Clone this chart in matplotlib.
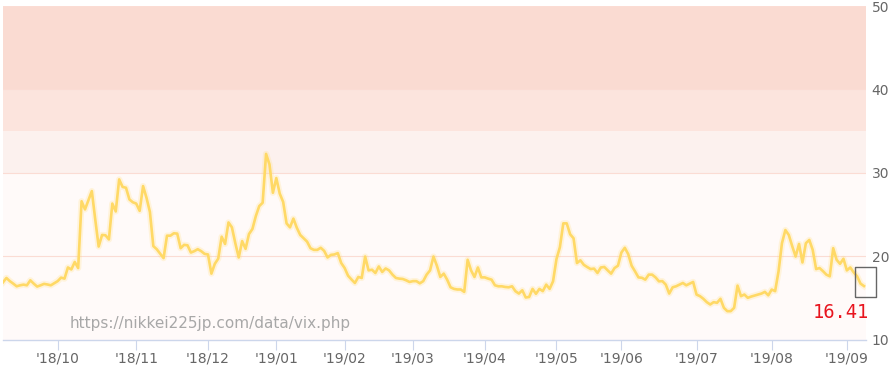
import numpy as np
import matplotlib.pyplot as plt

# VIX daily closes, one value per trading day, grouped by month
sep18 = [16.86, 17.38, 17.0, 16.7, 16.38, 16.5, 16.58, 16.5, 17.1, 16.7, 16.35, 16.5, 16.67, 16.6, 16.5, 16.75]
oct18 = [17.0, 17.42, 17.3, 18.64, 18.4, 19.3, 18.57, 26.58, 25.6, 26.7, 27.8, 24.4, 21.15, 22.54, 22.5, 22.0,
         26.3, 25.36, 29.2, 28.3, 28.2, 26.8, 26.46]
nov18 = [26.3, 25.43, 28.4, 27.0, 25.3, 21.2, 20.83, 20.3, 19.76, 22.45, 22.45, 22.74, 22.7, 20.95, 21.35, 21.3,
         20.43, 20.6, 20.83, 20.6, 20.27]
dec18 = [20.2, 17.9, 19.08, 19.7, 22.33, 21.46, 24.04, 23.45, 21.55, 19.84, 21.8, 20.87, 22.65, 23.25, 24.8, 26.0,
         26.4, 32.26, 31.0, 27.6]
jan19 = [29.36, 27.5, 26.5, 23.93, 23.45, 24.5, 23.4, 22.54, 22.14, 21.74, 20.95, 20.75, 20.75, 21.0, 20.63, 19.84,
         20.15, 20.2, 20.36, 19.17]
feb19 = [18.57, 17.65, 17.2, 16.78, 17.5, 17.38, 19.95, 18.29, 18.37, 17.98, 18.76, 18.1, 18.52, 18.29, 17.78, 17.38,
         17.3, 17.26, 17.1, 16.9]
mar19 = [17.0, 17.0, 16.74, 17.0, 17.78, 18.29, 19.95, 18.85, 17.5, 17.9, 17.18, 16.26, 16.07, 16.0, 16.0, 15.71,
         19.56, 18.29, 17.5, 18.64, 17.45]
apr19 = [17.45, 17.3, 17.18, 16.5, 16.38, 16.38, 16.3, 16.26, 16.38, 15.79, 15.51, 15.9, 15.04, 15.1, 16.07, 15.48,
         16.07, 15.8, 16.58, 16.07, 16.98]
may19 = [19.64, 21.07, 23.93, 23.93, 22.62, 22.14, 19.17, 19.5, 18.96, 18.69, 18.45, 18.5, 17.98, 18.64, 18.7, 18.29,
         17.9, 18.57, 18.85]
jun19 = [20.43, 21.0, 20.24, 18.85, 18.17, 17.45, 17.4, 17.18, 17.78, 17.78, 17.45, 16.98, 17.0, 16.58, 15.51, 16.26,
         16.38, 16.58, 16.78, 16.5, 16.7, 16.9]
jul19 = [15.39, 15.2, 14.88, 14.48, 14.2, 14.48, 14.4, 14.88, 13.8, 13.4, 13.4, 13.8, 16.46, 15.2, 15.39, 15.0,
         15.15, 15.27, 15.4, 15.51, 15.71, 15.3]
aug19 = [15.99, 15.8, 18.17, 21.55, 23.13, 22.54, 21.2, 19.95, 21.46, 19.24, 21.55, 21.94, 20.75, 18.45, 18.57, 18.2,
         17.78, 17.58, 20.95, 19.56, 19.08, 19.68]
sep19 = [18.29, 18.64, 18.05, 17.58, 16.7, 16.41]

months = [sep18, oct18, nov18, dec18, jan19, feb19, mar19, apr19, may19, jun19, jul19, aug19, sep19]
month_labels = ["'18/10", "'18/11", "'18/12", "'19/01", "'19/02", "'19/03", "'19/04",
                "'19/05", "'19/06", "'19/07", "'19/08", "'19/09"]
y_ticks = [10, 20, 30, 40, 50]
bands = [(10, 30, '#fffaf9'), (30, 35, '#fcf1ee'), (35, 40, '#fce4dd'), (40, 50, '#fadbd2')]

vix = np.concatenate(months)
x = np.arange(len(vix))
starts = np.cumsum([len(m) for m in months])[:-1]

fig = plt.figure(figsize=(8.9, 3.69), dpi=100)
ax = fig.add_axes([3 / 890, 29.5 / 369, 863 / 890, 333.5 / 369])

for lo, hi, c in bands:
    ax.axhspan(lo, hi, color=c, lw=0, zorder=0)
for v in y_ticks[1:]:
    ax.axhline(v, color='#fbdcd4', lw=0.8, zorder=1)

ax.plot(x, vix, color='#ffd966', lw=4.5, alpha=0.2, zorder=2, solid_joinstyle='round')
ax.plot(x, vix, color='#ffd966', lw=1.9, zorder=3, solid_joinstyle='round')

# box around the latest value (sits a little above the point, like the original)
box = [(-0.44, -0.54), (0.64, -0.54), (0.64, 1.0), (-0.44, 1.0), (-0.44, -0.54)]
ax.plot(x[-1], vix[-1], marker=box, markersize=28, mfc='none', mec='#666666', mew=1,
        clip_on=False, zorder=4)
ax.annotate('%.2f' % vix[-1], (x[-1], vix[-1]), xytext=(5, -26), textcoords='offset pixels',
            ha='right', va='center', color='#e8141e', fontsize=13.5, family='DejaVu Sans Mono')

ax.text(67 / 863, 0.047, 'https://nikkei225jp.com/data/vix.php', transform=ax.transAxes,
        color='#a8a8a8', fontsize=11, ha='left', va='center')

ax.set_xlim(0, len(vix) - 0.4)
ax.set_ylim(10, 50)
ax.set_xticks(starts)
ax.set_xticklabels(month_labels)
ax.set_yticks(y_ticks)
ax.yaxis.tick_right()
ax.tick_params(axis='x', length=7, color='#ccd6eb', labelcolor='#666666', labelsize=10, pad=2)
ax.tick_params(axis='y', length=0, labelcolor='#666666', labelsize=10, pad=4)
for s in ['top', 'left', 'right']:
    ax.spines[s].set_visible(False)
ax.spines['bottom'].set_color('#ccd6eb')
ax.spines['bottom'].set_linewidth(1)

fig.savefig('out.png', dpi=100)
